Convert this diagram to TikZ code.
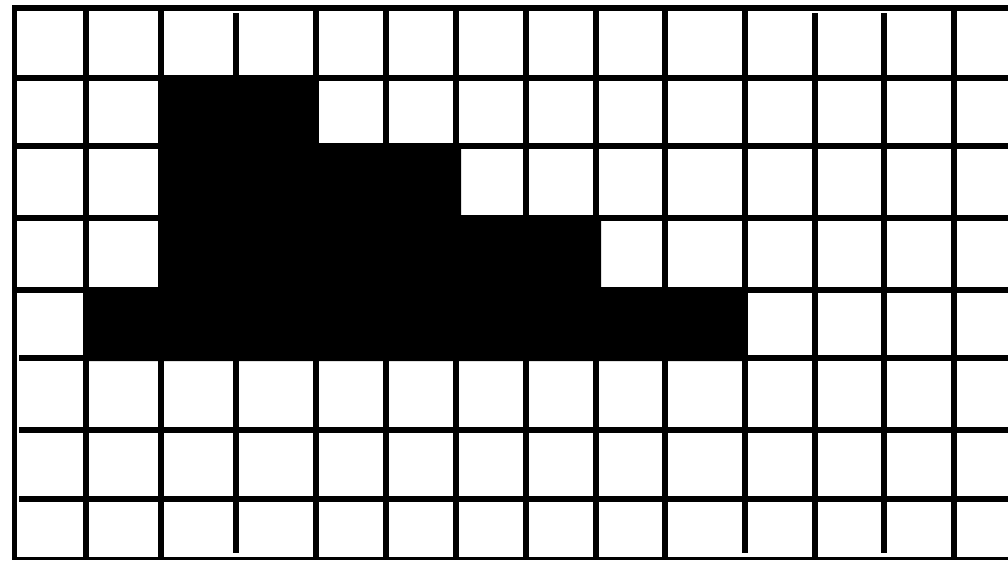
\documentclass[tikz,border=0pt]{standalone}
\begin{document}
\begin{tikzpicture}[x=1pt,y=-1pt,
  gridline/.style={line width=6pt,black},
  borderline/.style={line width=5pt,black}]
\useasboundingbox (0,0) rectangle (1008,560);
\fill[white] (0,0) rectangle (1008,560);
% black staircase region
\fill[black] (83,287) -- (158,287) -- (158,75) -- (318,75) -- (318,143)
  -- (461,143) -- (461,215) -- (601,215) -- (601,287) -- (747,287)
  -- (747,361) -- (83,361) -- cycle;
% borders
\draw[gridline] (12,8) -- (1008,8);
\draw[borderline] (14.5,5) -- (14.5,560);
\draw[line width=3pt] (12,558.7) -- (1008,558.7);
% horizontal lines
\foreach \y in {78,145.5,218,290}
  \draw[gridline] (14.5,\y) -- (1008,\y);
\foreach \y in {358,430,499}
  \draw[gridline] (19,\y) -- (1008,\y);
% vertical lines: x / top / bottom
\foreach \x/\t/\b in {86/5/560,160.5/5/560,236/13/553,315.5/5/560,
  385.5/5/560,455.5/5/560,525.5/5/560,595.5/5/560,664.5/5/560,
  745/5/553,814.5/13/560,884/13/553,954/5/560}
  \draw[gridline] (\x,\t) -- (\x,\b);
\end{tikzpicture}
\end{document}
